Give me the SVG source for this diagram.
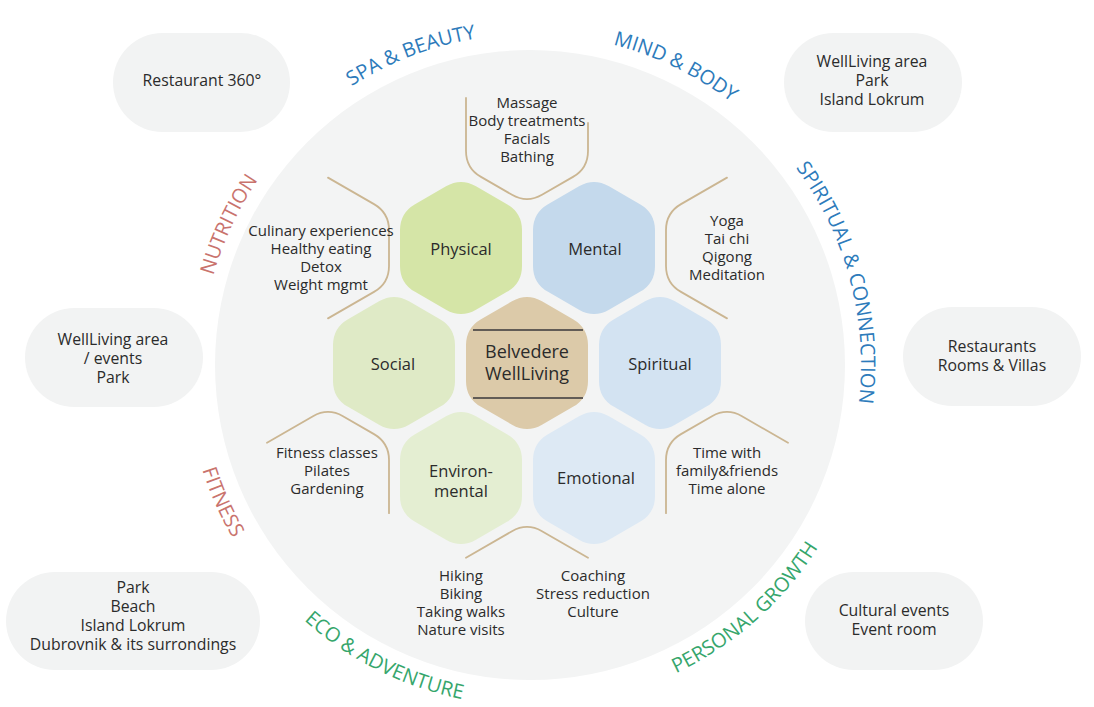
<svg xmlns="http://www.w3.org/2000/svg" width="1094" height="707" viewBox="0 0 1094 707">
<style>
.t{font-family:"Open Sans","Noto Sans",sans-serif;font-size:15px;fill:#2b2b2b;text-anchor:middle}
.p{font-size:15.8px}
.h{font-size:16.5px}
.c{font-size:18px}
.pill{fill:#f2f3f3}
.br{fill:none;stroke:#cbb692;stroke-width:1.8;stroke-linecap:round;stroke-linejoin:round}
.lab{font-family:"Open Sans","Noto Sans",sans-serif;font-size:20px;text-anchor:middle}
.blue{fill:#2d7bbb}.rose{fill:#c9736d}.green{fill:#36a66c}
</style>
<defs>
<path id="hex" d="M15,-61.74 L46,-43.86 Q61,-35.2 61,-17.88 L61,17.88 Q61,35.2 46,43.86 L15,61.74 Q0,70.4 -15,61.74 L-46,43.86 Q-61,35.2 -61,17.88 L-61,-17.88 Q-61,-35.2 -46,-43.86 L-15,-61.74 Q0,-70.4 15,-61.74 Z"/>
<path id="a-spa" d="M272.8,156.7 A331,331 0 0 1 581.8,38.1"/>
<path id="a-mind" d="M506.9,34.8 A331,331 0 0 1 804.4,179.9"/>
<path id="a-spir" d="M742.8,111.5 A331,331 0 0 1 841,478.2"/>
<path id="a-nut" d="M202.3,393.7 A329,329 0 0 1 341.3,95.5"/>
<path id="a-fit" d="M187.9,329 A344,344 0 0 0 327.8,643.3"/>
<path id="a-eco" d="M217.3,501 A341,341 0 0 0 609.6,696.6"/>
<path id="a-pg" d="M538.9,705.9 A341,341 0 0 0 867.3,415.4"/>
</defs>
<rect width="1094" height="707" fill="#ffffff"/>
<circle id="bigcircle" cx="530" cy="365" r="315" fill="#f3f4f4"/>

<g id="pill-restaurant360"><rect class="pill" x="113" y="33" width="177" height="99" rx="49.5"/><text class="t p" x="202" y="86">Restaurant 360°</text></g>
<g id="pill-wellliving-park-lokrum"><rect class="pill" x="784" y="33" width="178" height="99" rx="49.5"/><text class="t p" x="872" y="67">WellLiving area</text><text class="t p" x="872" y="86">Park</text><text class="t p" x="872" y="105">Island Lokrum</text></g>
<g id="pill-wellliving-events"><rect class="pill" x="25" y="308" width="178" height="99" rx="49.5"/><text class="t p" x="113" y="345">WellLiving area</text><text class="t p" x="113" y="364">/ events</text><text class="t p" x="113" y="383">Park</text></g>
<g id="pill-restaurants"><rect class="pill" x="903" y="307" width="178" height="99" rx="49.5"/><text class="t p" x="992" y="352">Restaurants</text><text class="t p" x="992" y="371">Rooms &amp; Villas</text></g>
<g id="pill-park-beach"><rect class="pill" x="6" y="572" width="254" height="98" rx="49"/><text class="t p" x="133" y="593">Park</text><text class="t p" x="133" y="612">Beach</text><text class="t p" x="133" y="631">Island Lokrum</text><text class="t p" x="133" y="650">Dubrovnik &amp; its surrondings</text></g>
<g id="pill-cultural"><rect class="pill" x="805" y="572" width="178" height="98" rx="49"/><text class="t p" x="894" y="616">Cultural events</text><text class="t p" x="894" y="635">Event room</text></g>

<g id="connectors">
<path class="br" d="M466,98 L466,150.88 Q466,168.2 481,176.86 L512,194.74 Q527,203.4 542,194.74 L573,176.86 Q588,168.2 588,150.88 L588,123"/>
<path class="br" d="M328,177.6 L374,204.14 Q389,212.8 389,230.12 L389,265.88 Q389,283.2 374,291.86 L328,318.4"/>
<path class="br" d="M727,177.6 L681,204.14 Q666,212.8 666,230.12 L666,265.88 Q666,283.2 681,291.86 L727,318.4"/>
<path class="br" d="M267,442.8 L313,416.26 Q328,407.6 343,416.26 L374,434.14 Q389,442.8 389,460.12 L389,513.2"/>
<path class="br" d="M666,513.2 L666,460.12 Q666,442.8 681,434.14 L712,416.26 Q727,407.6 742,416.26 L788,442.8"/>
<path class="br" d="M466,557.8 L512,531.26 Q527,522.6 542,531.26 L588,557.8"/>
</g>

<g id="hex-physical"><use href="#hex" transform="translate(461,248)" fill="#d5e5a7"/><text class="t h" x="461" y="255">Physical</text></g>
<g id="hex-mental"><use href="#hex" transform="translate(594,248)" fill="#c4d9ec"/><text class="t h" x="595" y="255">Mental</text></g>
<g id="hex-social"><use href="#hex" transform="translate(394,363)" fill="#dfeac6"/><text class="t h" x="393" y="370">Social</text></g>
<g id="hex-center"><use href="#hex" transform="translate(527,363)" fill="#dccaa9"/>
<line x1="473" y1="330" x2="583" y2="330" stroke="#625c56" stroke-width="2"/>
<line x1="473" y1="398" x2="583" y2="398" stroke="#625c56" stroke-width="2"/>
<text class="t c" x="527" y="358">Belvedere</text><text class="t c" x="527" y="380">WellLiving</text></g>
<g id="hex-spiritual"><use href="#hex" transform="translate(660,363)" fill="#d3e3f2"/><text class="t h" x="660" y="370">Spiritual</text></g>
<g id="hex-environmental"><use href="#hex" transform="translate(461,478)" fill="#e4eed2"/><text class="t h" x="461" y="477">Environ-</text><text class="t h" x="461" y="497">mental</text></g>
<g id="hex-emotional"><use href="#hex" transform="translate(594,478)" fill="#dde9f4"/><text class="t h" x="596" y="484">Emotional</text></g>

<g id="list-spa"><text class="t" x="527" y="108">Massage</text><text class="t" x="527" y="126">Body treatments</text><text class="t" x="527" y="144">Facials</text><text class="t" x="527" y="162">Bathing</text></g>
<g id="list-nutrition"><text class="t" x="321" y="236">Culinary experiences</text><text class="t" x="321" y="254">Healthy eating</text><text class="t" x="321" y="272">Detox</text><text class="t" x="321" y="290">Weight mgmt</text></g>
<g id="list-mind"><text class="t" x="727" y="226">Yoga</text><text class="t" x="727" y="244">Tai chi</text><text class="t" x="727" y="262">Qigong</text><text class="t" x="727" y="280">Meditation</text></g>
<g id="list-fitness"><text class="t" x="327" y="458">Fitness classes</text><text class="t" x="327" y="476">Pilates</text><text class="t" x="327" y="494">Gardening</text></g>
<g id="list-growth"><text class="t" x="727" y="458">Time with</text><text class="t" x="727" y="476">family&amp;friends</text><text class="t" x="727" y="494">Time alone</text></g>
<g id="list-eco"><text class="t" x="461" y="581">Hiking</text><text class="t" x="461" y="599">Biking</text><text class="t" x="461" y="617">Taking walks</text><text class="t" x="461" y="635">Nature visits</text></g>
<g id="list-coaching"><text class="t" x="593" y="581">Coaching</text><text class="t" x="593" y="599">Stress reduction</text><text class="t" x="593" y="617">Culture</text></g>

<g id="labels">
<text class="lab blue"><textPath href="#a-spa" startOffset="50%">SPA &amp; BEAUTY</textPath></text>
<text class="lab blue"><textPath href="#a-mind" startOffset="50%">MIND &amp; BODY</textPath></text>
<text class="lab blue"><textPath href="#a-spir" startOffset="50%">SPIRITUAL &amp; CONNECTION</textPath></text>
<text class="lab rose"><textPath href="#a-nut" startOffset="50%">NUTRITION</textPath></text>
<text class="lab rose"><textPath href="#a-fit" startOffset="50%">FITNESS</textPath></text>
<text class="lab green"><textPath href="#a-eco" startOffset="50%">ECO &amp; ADVENTURE</textPath></text>
<text class="lab green"><textPath href="#a-pg" startOffset="50%">PERSONAL GROWTH</textPath></text>
</g>
</svg>
